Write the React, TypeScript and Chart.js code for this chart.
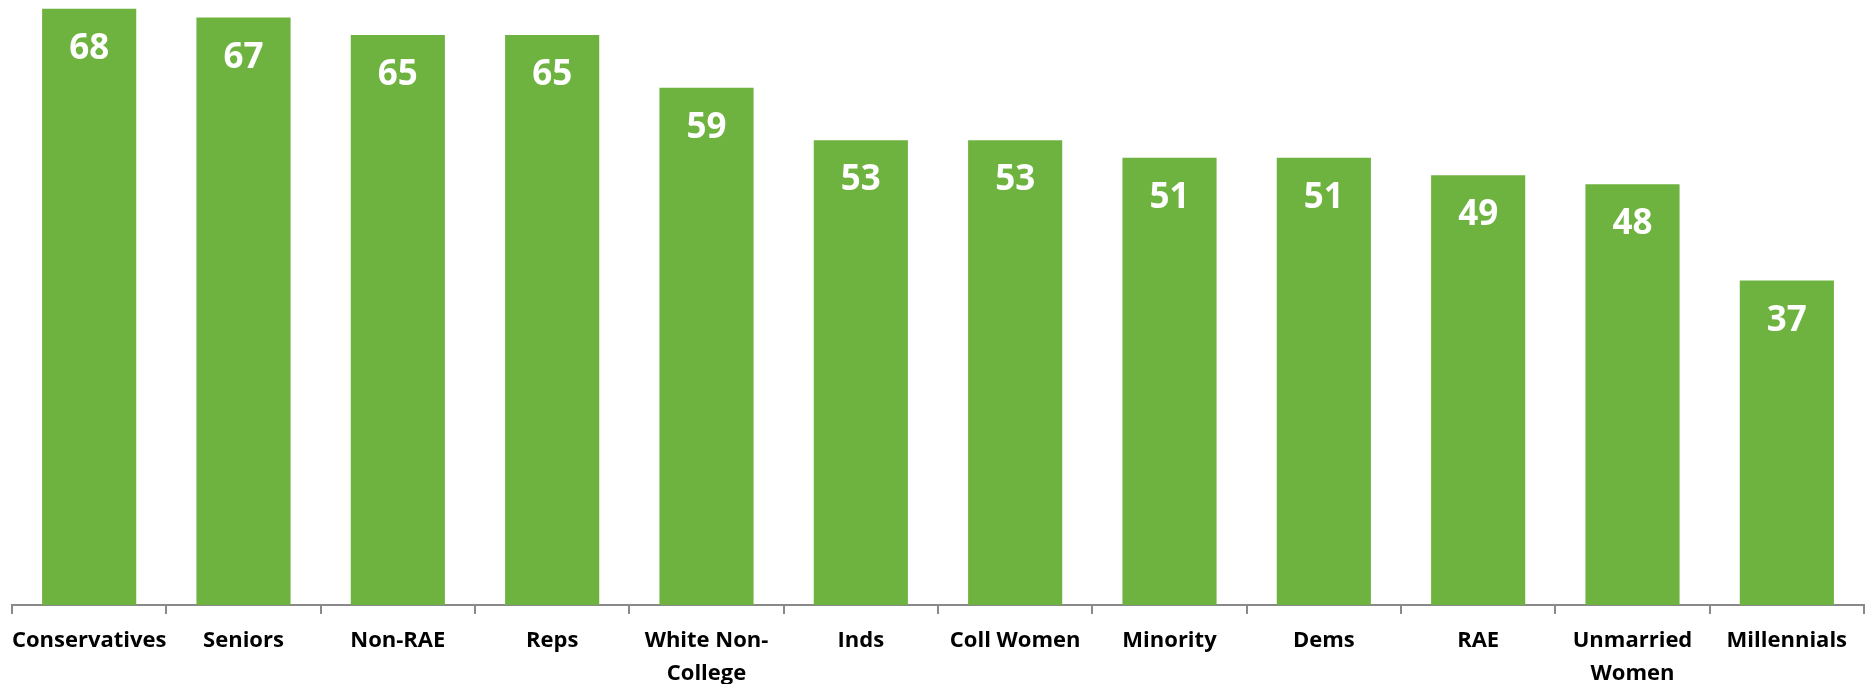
import React, { useEffect, useRef } from "react";
import { Chart, registerables } from "chart.js";

Chart.register(...registerables);

const categories: (string | string[])[] = [
  "Conservatives",
  "Seniors",
  "Non-RAE",
  "Reps",
  ["White Non-", "College"],
  "Inds",
  "Coll Women",
  "Minority",
  "Dems",
  "RAE",
  ["Unmarried", "Women"],
  "Millennials",
];

const values: number[] = [68, 67, 65, 65, 59, 53, 53, 51, 51, 49, 48, 37];

const BAR_COLOR = "#6EB33F";
const AXIS_COLOR = "#898989";
const FONT_FAMILY = "'Open Sans', Lato, sans-serif";

const barLabelPlugin = {
  id: "barLabels",
  afterDatasetsDraw(chart: any) {
    const ctx = chart.ctx;
    const meta = chart.getDatasetMeta(0);
    ctx.save();
    ctx.fillStyle = "#FFFFFF";
    ctx.font = `bold 35px ${FONT_FAMILY}`;
    ctx.textAlign = "center";
    ctx.textBaseline = "alphabetic";
    meta.data.forEach((bar: any, i: number) => {
      const v = chart.data.datasets[0].data[i];
      ctx.fillText(String(v), bar.x, bar.y + 50);
    });
    ctx.restore();
  },
};

export default function App() {
  const canvasRef = useRef<HTMLCanvasElement | null>(null);

  useEffect(() => {
    document.body.style.margin = "0";
    const canvas = canvasRef.current;
    if (!canvas) return;
    const chart = new Chart(canvas, {
      type: "bar",
      data: {
        labels: categories,
        datasets: [
          {
            data: values,
            backgroundColor: BAR_COLOR,
            borderWidth: 0,
            categoryPercentage: 1,
            barPercentage: 0.61,
          },
        ],
      },
      options: {
        responsive: false,
        animation: false,
        devicePixelRatio: 1,
        layout: { padding: { left: 12, right: 7, top: 0, bottom: 0 } },
        plugins: {
          legend: { display: false },
          tooltip: { enabled: false },
          title: { display: false },
        },
        scales: {
          x: {
            border: { display: true, color: AXIS_COLOR, width: 2 },
            grid: {
              display: true,
              drawOnChartArea: false,
              drawTicks: true,
              tickLength: 9,
              color: AXIS_COLOR,
              lineWidth: 2,
              offset: true,
            },
            ticks: {
              color: "#000000",
              padding: 10,
              maxRotation: 0,
              autoSkip: false,
              font: { family: FONT_FAMILY, size: 22, weight: "bold", lineHeight: 1.52 },
            },
            afterFit: (scale: any) => {
              scale.height = 79;
            },
          },
          y: {
            display: false,
            min: 0,
            max: 69,
          },
        },
      },
      plugins: [barLabelPlugin],
    });
    return () => chart.destroy();
  }, []);

  return (
    <div style={{ width: 1871, height: 684, position: "relative" }}>
      <canvas ref={canvasRef} width={1871} height={684} style={{ display: "block" }} />
    </div>
  );
}
